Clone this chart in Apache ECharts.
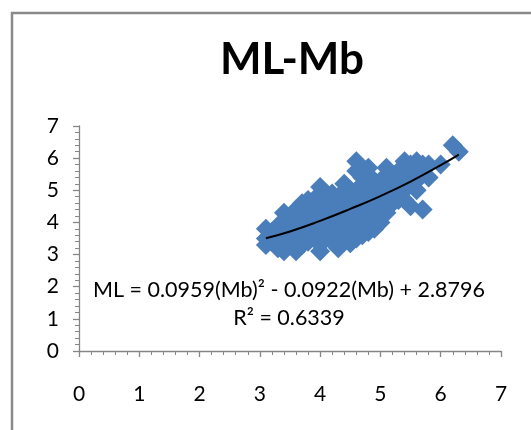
<!DOCTYPE html>
<html>
<head>
<meta charset="utf-8">
<style>html,body{margin:0;padding:0;background:#fff;}#c{width:531px;height:430px;}</style>
<script src="https://cdn.jsdelivr.net/npm/echarts@6/dist/echarts.min.js"></script>
</head>
<body>
<div id="c"></div>
<script>
const mbValues = [
 3.1,3.1,3.1, 3.2,3.2,3.2, 3.3,3.3,3.3, 3.4,3.4,3.4,3.4,3.4, 3.5,3.5,3.5,3.5,
 3.6,3.6,3.6,3.6,3.6, 3.7,3.7,3.7,3.7,3.7, 3.8,3.8,3.8,3.8,3.8, 3.9,3.9,3.9,3.9,3.9,
 4.0,4.0,4.0,4.0,4.0,4.0,4.0,4.0, 4.1,4.1,4.1,4.1,4.1,4.1, 4.2,4.2,4.2,4.2,4.2,4.2,
 4.3,4.3,4.3,4.3,4.3,4.3, 4.4,4.4,4.4,4.4,4.4,4.4,4.4, 4.5,4.5,4.5,4.5,4.5,4.5,4.5,
 4.6,4.6,4.6,4.6,4.6,4.6,4.6,4.6, 4.7,4.7,4.7,4.7,4.7,4.7,4.7, 4.8,4.8,4.8,4.8,4.8,4.8,4.8,
 4.9,4.9,4.9,4.9,4.9,4.9, 5.0,5.0,5.0,5.0,5.0, 5.1,5.1,5.1,5.1,5.1, 5.2,5.2,5.2,5.2,
 5.3,5.3,5.3,5.3, 5.4,5.4,5.4,5.4,5.4, 5.5,5.5,5.5,5.5, 5.6,5.6,5.6,5.6, 5.7,5.7,5.7,
 5.8,5.8, 6.0, 6.2, 6.3
];
const mlValues = [
 3.3,3.5,3.8, 3.4,3.6,3.7, 3.2,3.5,3.9, 3.1,3.4,3.7,4.0,4.3, 3.3,3.6,3.9,4.1,
 3.1,3.5,3.8,4.0,4.4, 3.3,3.6,3.9,4.2,4.6, 3.4,3.7,4.0,4.3,4.7, 3.5,3.8,4.1,4.4,4.6,
 3.1,3.4,3.7,4.0,4.3,4.6,4.9,5.1, 3.5,3.8,4.1,4.4,4.7,4.9, 3.4,3.7,4.0,4.3,4.6,4.9,
 3.2,3.6,3.9,4.2,4.5,4.8, 3.4,3.7,4.0,4.3,4.6,4.9,5.2, 3.35,3.6,3.9,4.2,4.5,4.8,5.0,
 3.5,3.8,4.1,4.4,4.7,5.0,5.6,5.9, 3.6,3.9,4.2,4.5,4.8,5.1,5.4, 3.7,4.0,4.3,4.6,4.9,5.2,5.7,
 3.8,4.1,4.4,4.7,5.0,5.3, 4.0,4.3,4.6,4.9,5.3, 4.3,4.6,4.9,5.2,5.7, 4.6,4.8,5.1,5.4,
 4.7,5.0,5.3,5.6, 4.7,5.0,5.3,5.6,5.9, 4.5,5.2,5.5,5.8, 5.0,5.3,5.6,5.9, 4.4,5.5,5.8,
 5.4,5.8, 5.8, 6.4, 6.2
];
// Polynomial trend line
const trendMb = [3.1, 3.5, 4.0, 4.5, 5.0, 5.5, 6.0, 6.3];
const trendMl = [3.51, 3.72, 4.05, 4.42, 4.82, 5.27, 5.78, 6.11];
const xTicks = [0,1,2,3,4,5,6,7];
const yTicks = [0,1,2,3,4,5,6,7];
const titleText = 'ML-Mb';
const equationText = 'ML = 0.0959(Mb)\u00B2 - 0.0922(Mb) + 2.8796';
const r2Text = 'R\u00B2 = 0.6339';

const FONT = 'Lato, "Open Sans", sans-serif';
const chart = echarts.init(document.getElementById('c'), null, {renderer:'canvas'});
const axisCommon = (ticks) => ({
  type:'value', min: ticks[0], max: ticks[ticks.length-1], interval: 1,
  axisLine:{show:true, lineStyle:{color:'#868686', width:1.3}},
  axisTick:{show:true, inside:false, length:6, lineStyle:{color:'#868686', width:1.3}},
  minorTick:{show:true, splitNumber:5, length:4, lineStyle:{color:'#868686', width:1}},
  splitLine:{show:false},
  axisLabel:{color:'#000', fontSize:21, fontFamily:FONT}
});
const xa = axisCommon(xTicks); xa.axisLabel.margin = 33;
const ya = axisCommon(yTicks); ya.axisLabel.margin = 20;
chart.setOption({
  animation:false,
  backgroundColor:'#fff',
  title:{text:titleText, left:287, top:33, textAlign:'center',
    textStyle:{fontSize:44, fontWeight:'bold', color:'#000', fontFamily:FONT}},
  grid:{left:79, right:30, top:126, bottom:79},
  xAxis: xa,
  yAxis: ya,
  series:[
    {type:'scatter', symbol:'diamond', symbolSize:20,
     itemStyle:{color:'#4a7ebb', opacity:1},
     data: mbValues.map((v,i)=>[v, mlValues[i]]), z:2},
    {type:'line', smooth:true, symbol:'none',
     lineStyle:{color:'#000', width:2},
     data: trendMb.map((v,i)=>[v, trendMl[i]]), z:3}
  ],
  graphic:[
    {type:'rect', shape:{x:12, y:13, width:700, height:700}, silent:true, z:-1,
     style:{fill:'none', stroke:'#8a8a8a', lineWidth:2.5}},
    {type:'text', x:289, y:290, z:10, style:{text:equationText, fontSize:21.5, fontFamily:FONT,
      fill:'#000', align:'center', verticalAlign:'middle'}},
    {type:'text', x:289, y:318, z:10, style:{text:r2Text, fontSize:21.5, fontFamily:FONT,
      fill:'#000', align:'center', verticalAlign:'middle'}}
  ]
});
</script>
</body>
</html>
